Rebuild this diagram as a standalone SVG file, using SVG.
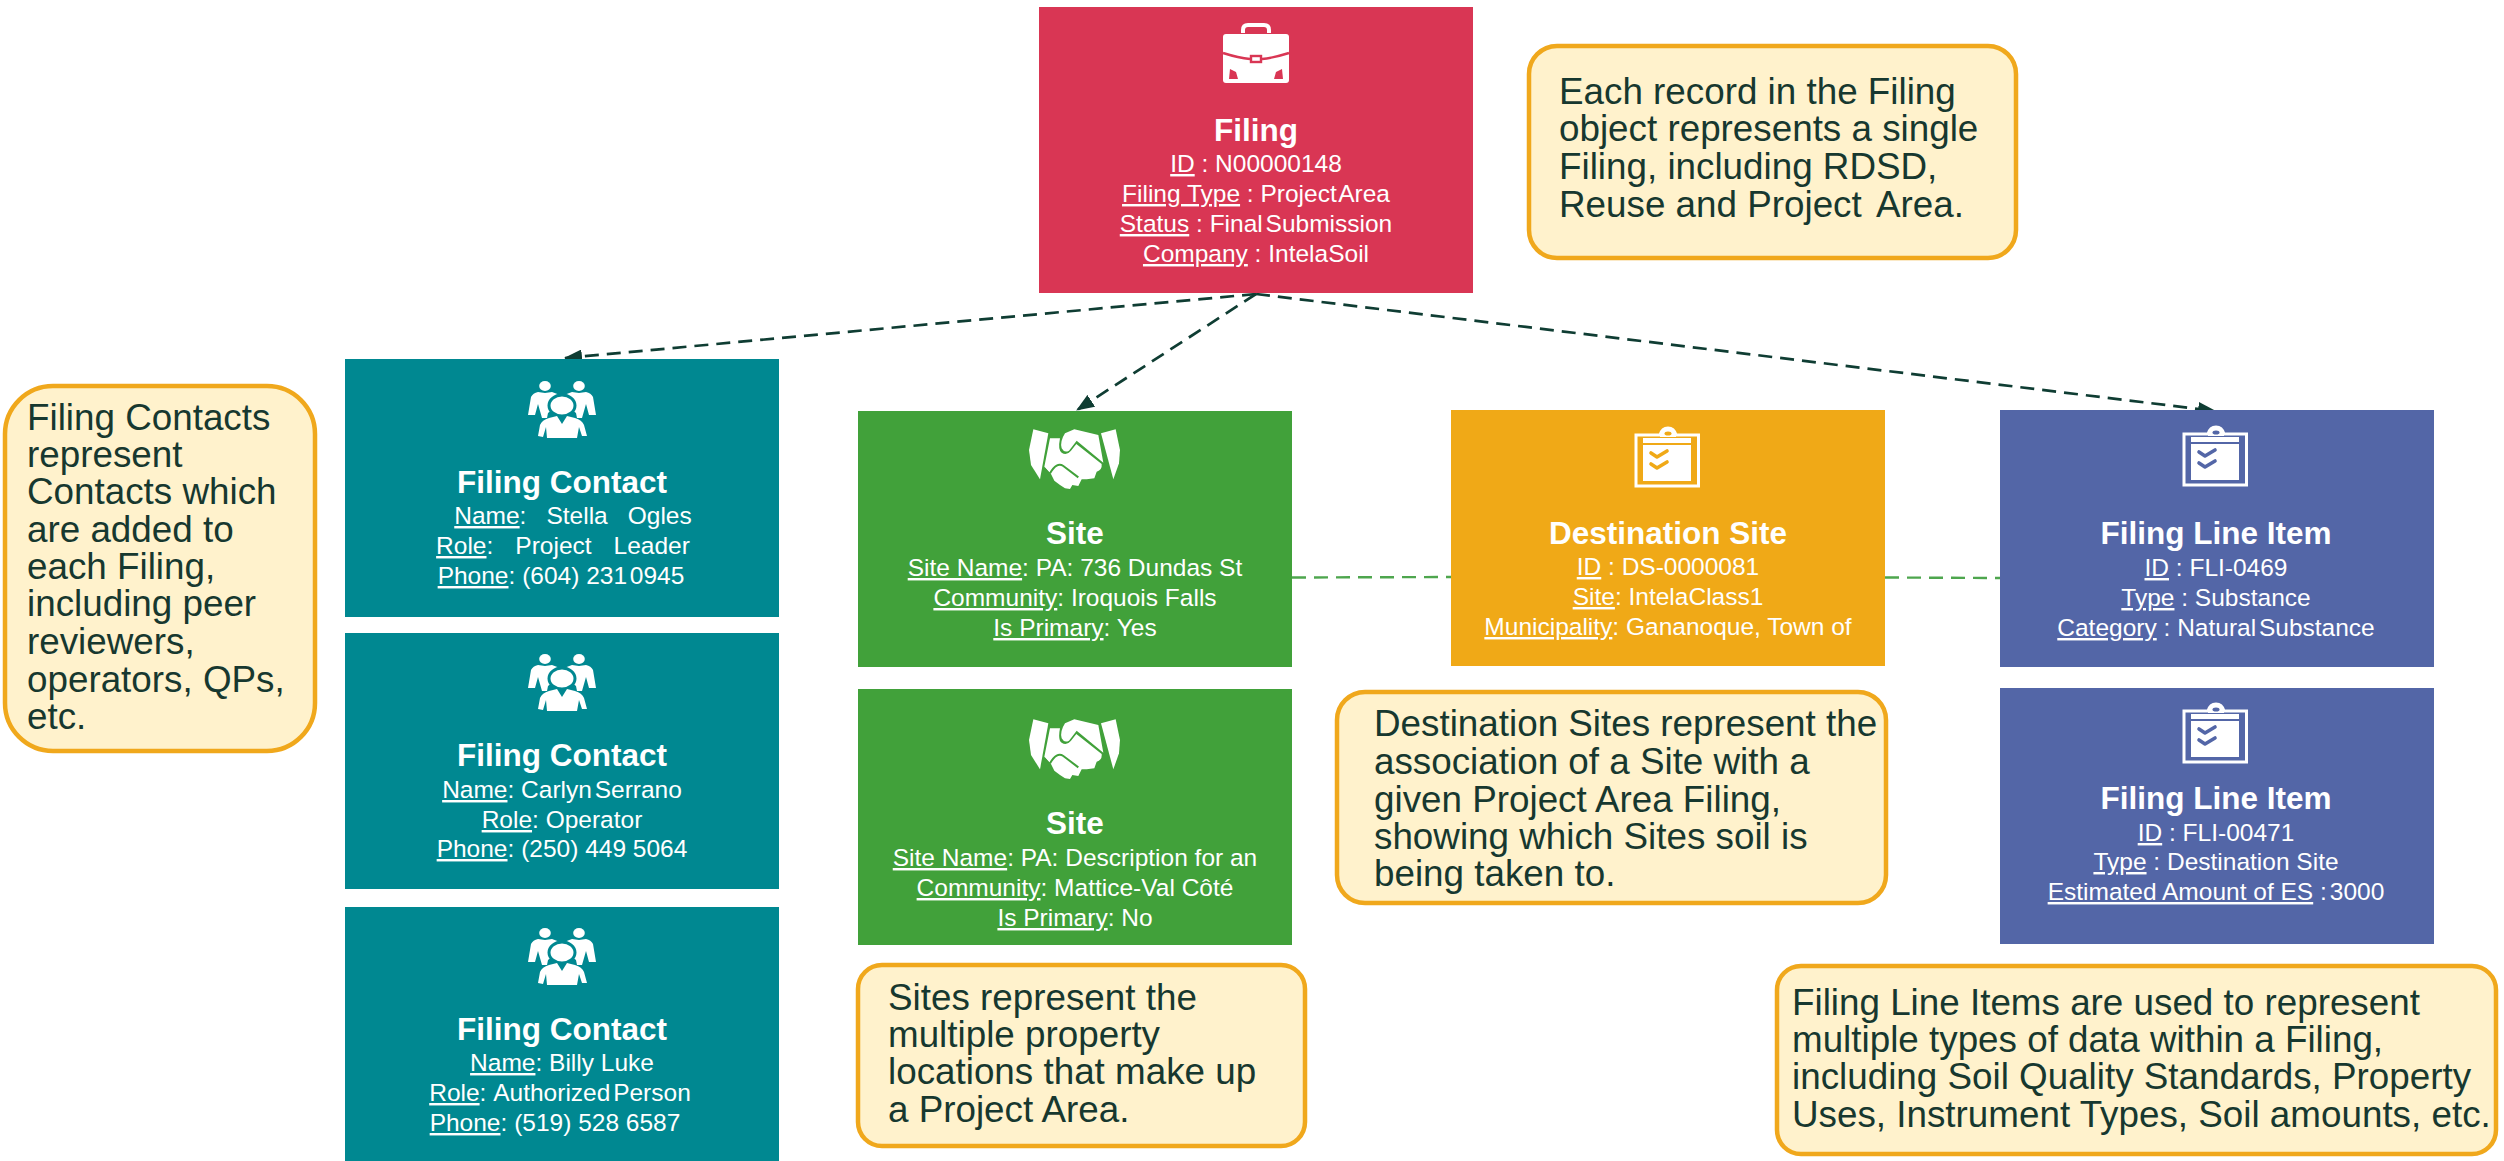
<svg xmlns="http://www.w3.org/2000/svg" width="2504" height="1161" viewBox="0 0 2504 1161">
<style>
text{font-family:"Liberation Sans",Arial,sans-serif}
.bg{fill:#fff}
.box{stroke:none}
.red{fill:#D93654;color:#D93654}
.teal{fill:#008891;color:#008891}
.green{fill:#41A13A;color:#41A13A}
.orange{fill:#F0A917;color:#F0A917}
.blue{fill:#5366A7;color:#5366A7}
.t{font-size:31.5px;font-weight:700;fill:#fff;text-anchor:middle}
.b{font-size:24.5px;fill:#fff;text-anchor:middle}
.u{text-decoration:underline}
.n{word-spacing:-4px}
.note{fill:#FFF2CC;stroke:#F0A81C;stroke-width:4.5}
.nt{font-size:36.8px;fill:#17382F}
.c{fill:none;stroke:#0F3D33;stroke-width:2.7;stroke-dasharray:14 8}
.g{fill:none;stroke:#4EA64E;stroke-width:2.4;stroke-dasharray:14 8}
</style>
<defs>
<marker id="ah" markerUnits="userSpaceOnUse" markerWidth="18" markerHeight="14" refX="17" refY="7" orient="auto"><path d="M0,0L18,7L0,14Z" fill="#0F3D33"/></marker>
<g id="brief">
<path d="M-15,-24V-27Q-15,-34 -8,-34H8Q15,-34 15,-27V-24H11V-27Q11,-30 8,-30H-8Q-11,-30 -11,-27V-24Z" fill="#fff"/>
<rect x="-33" y="-23" width="66" height="49" rx="3" fill="#fff"/>
<path d="M-33,-4Q-17,1 -6,2M6,2Q17,1 33,-4" fill="none" stroke="currentColor" stroke-width="2.4"/>
<rect x="-5" y="-1" width="10" height="6" fill="#fff" stroke="currentColor" stroke-width="2.4"/>
<path d="M-26,12L-20,15L-18,22H-27Z" fill="currentColor"/><path d="M26,12L20,15L18,22H27Z" fill="currentColor"/>
</g>
<g id="people">
<ellipse cx="-17" cy="-21" rx="5.800" ry="5" fill="#fff"/><ellipse cx="17" cy="-21" rx="5.800" ry="5" fill="#fff"/>
<path d="M-34,8L-31,-10Q-29,-14 -24,-15L-17,-14L-10,-15L-2,-12L-4,-2L-14,6L-15,11H-20L-24,-3L-27,8Z" fill="#fff"/>
<path d="M34,8L31,-10Q29,-14 24,-15L17,-14L10,-15L2,-12L4,-2L14,6L15,11H20L24,-3L27,8Z" fill="#fff"/>
<ellipse cx="0" cy="-1.500" rx="13" ry="10.500" fill="#fff" stroke="currentColor" stroke-width="3"/>
<path d="M-24,29L-22,18Q-20,13 -13,11L-5,9L0,17L5,9L13,11Q20,13 22,18L25,29L20,29L17,20L15,31H-15L-16,20L-19,30Z" fill="#fff"/>
</g>
<g id="shake" transform="scale(0.3333) translate(-180,-114)">
<path d="M55,28L100,40L75,178L48,135L42,90Z" fill="#fff"/>
<path d="M258,40L302,28L315,90L312,130L295,178Z" fill="#fff"/>
<path d="M150,40L178,28L250,45L265,128L185,62L162,92Q148,100 140,85Q134,65 150,40Z" fill="#fff"/>
<path d="M105,55L135,55Q128,90 140,98Q155,108 168,92L184,72L260,132Q262,150 245,155L238,175L215,178L200,178L190,198L172,195L165,207L150,205L135,195L118,182L108,162L88,140Z" fill="#fff"/>
<path d="M88,145L105,165M105,160Q125,125 145,138L190,172" fill="none" stroke="currentColor" stroke-width="6"/>
</g>
<g id="clip">
<path d="M-24,-24H-8Q-6,-31 0,-31Q6,-31 8,-24H30.500V27H-32V-24Z" fill="none" stroke="#fff" stroke-width="3"/>
<path d="M-8,-24Q-6,-32 0,-32Q6,-32 8,-24V-22H-8Z" fill="#fff"/>
<ellipse cx="0" cy="-25.500" rx="3.500" ry="2" fill="currentColor"/>
<rect x="-25" y="-21" width="48" height="5" fill="#fff"/>
<rect x="-25" y="-14" width="48" height="36" fill="#fff"/>
<path d="M-17,-6L-11,-2L-1,-8M-17,5L-11,9L-1,3" fill="none" stroke="currentColor" stroke-width="3.600" stroke-linecap="round" stroke-linejoin="round"/>
</g>
</defs>
<rect class="bg" width="2504" height="1161"/>
<g id="connectors">
<path class="c" d="M1256,294L565,358" marker-end="url(#ah)"/>
<path class="c" d="M1256,294L1077,410" marker-end="url(#ah)"/>
<path class="c" d="M1256,294L2215,411" marker-end="url(#ah)"/>
<path class="g" d="M1292,577.500L1451,577"/>
<path class="g" d="M1885,577.500L2000,578"/>
</g>
<g id="filing">
<rect class="box red" x="1039" y="7" width="434" height="286"/>
<use href="#brief" x="1256" y="57" class="red"/>
<text class="t" x="1256" y="141">Filing</text>
<text class="b" x="1256" y="172"><tspan class="u">ID</tspan> : N00000148</text>
<text class="b" x="1256" y="202"><tspan class="u">Filing Type</tspan> : <tspan class="n">Project Area</tspan></text>
<text class="b" x="1256" y="232"><tspan class="u">Status</tspan> : <tspan class="n">Final Submission</tspan></text>
<text class="b" x="1256" y="262"><tspan class="u">Company</tspan> : IntelaSoil</text>
</g>
<g id="contact1">
<rect class="box teal" x="345" y="359" width="434" height="258"/>
<use href="#people" x="562" y="407" class="teal"/>
<text class="t" x="562" y="493">Filing Contact</text>
<text class="b" x="573" y="524"><tspan class="u">Name</tspan>:<tspan dx="20">Stella</tspan><tspan dx="20">Ogles</tspan></text>
<text class="b" x="563" y="554"><tspan class="u">Role</tspan>:<tspan dx="22">Project</tspan><tspan dx="22">Leader</tspan></text>
<text class="b" x="561" y="584"><tspan class="u">Phone</tspan>: (604) <tspan class="n">231 0945</tspan></text>
</g>
<g id="contact2">
<rect class="box teal" x="345" y="633" width="434" height="256"/>
<use href="#people" x="562" y="680" class="teal"/>
<text class="t" x="562" y="766">Filing Contact</text>
<text class="b" x="562" y="798"><tspan class="u">Name</tspan>: <tspan class="n">Carlyn Serrano</tspan></text>
<text class="b" x="562" y="828"><tspan class="u">Role</tspan>: Operator</text>
<text class="b" x="562" y="857"><tspan class="u">Phone</tspan>: (250) 449 5064</text>
</g>
<g id="contact3">
<rect class="box teal" x="345" y="907" width="434" height="254"/>
<use href="#people" x="562" y="954" class="teal"/>
<text class="t" x="562" y="1040">Filing Contact</text>
<text class="b" x="562" y="1071"><tspan class="u">Name</tspan>: Billy Luke</text>
<text class="b" x="560" y="1101"><tspan class="u">Role</tspan>: <tspan class="n">Authorized Person</tspan></text>
<text class="b" x="555" y="1131"><tspan class="u">Phone</tspan>: (519) 528 6587</text>
</g>
<g id="site1">
<rect class="box green" x="858" y="411" width="434" height="256"/>
<use href="#shake" x="1075" y="458" class="green"/>
<text class="t" x="1075" y="544">Site</text>
<text class="b" x="1075" y="576"><tspan class="u">Site Name</tspan>: PA: 736 Dundas St</text>
<text class="b" x="1075" y="606"><tspan class="u">Community</tspan>: Iroquois Falls</text>
<text class="b" x="1075" y="636"><tspan class="u">Is Primary</tspan>: Yes</text>
</g>
<g id="site2">
<rect class="box green" x="858" y="689" width="434" height="256"/>
<use href="#shake" x="1075" y="748" class="green"/>
<text class="t" x="1075" y="834">Site</text>
<text class="b" x="1075" y="866"><tspan class="u">Site Name</tspan>: PA: Description for an</text>
<text class="b" x="1075" y="896"><tspan class="u">Community</tspan>: Mattice-Val Côté</text>
<text class="b" x="1075" y="926"><tspan class="u">Is Primary</tspan>: No</text>
</g>
<g id="destination">
<rect class="box orange" x="1451" y="410" width="434" height="256"/>
<use href="#clip" x="1668" y="459" class="orange"/>
<text class="t" x="1668" y="544">Destination Site</text>
<text class="b" x="1668" y="575"><tspan class="u">ID</tspan> : DS-0000081</text>
<text class="b" x="1668" y="605"><tspan class="u">Site</tspan>: IntelaClass1</text>
<text class="b" x="1668" y="635"><tspan class="u">Municipality</tspan>: Gananoque, Town of</text>
</g>
<g id="lineitem1">
<rect class="box blue" x="2000" y="410" width="434" height="257"/>
<use href="#clip" x="2216" y="458" class="blue"/>
<text class="t" x="2216" y="544">Filing Line Item</text>
<text class="b" x="2216" y="576"><tspan class="u">ID</tspan> : FLI-0469</text>
<text class="b" x="2216" y="606"><tspan class="u">Type</tspan> : Substance</text>
<text class="b" x="2216" y="636"><tspan class="u">Category</tspan> : <tspan class="n">Natural Substance</tspan></text>
</g>
<g id="lineitem2">
<rect class="box blue" x="2000" y="688" width="434" height="256"/>
<use href="#clip" x="2216" y="735" class="blue"/>
<text class="t" x="2216" y="809">Filing Line Item</text>
<text class="b" x="2216" y="841"><tspan class="u">ID</tspan> : FLI-00471</text>
<text class="b" x="2216" y="870"><tspan class="u">Type</tspan> : Destination Site</text>
<text class="b" x="2216" y="900"><tspan class="u">Estimated Amount of ES</tspan> :<tspan dx="3">3000</tspan></text>
</g>
<g id="note-filing">
<rect class="note" x="1529" y="46" width="487" height="212" rx="28"/>
<text class="nt"><tspan x="1559" y="104">Each record in the Filing</tspan><tspan x="1559" y="141">object represents a single</tspan><tspan x="1559" y="179">Filing, including RDSD,</tspan><tspan x="1559" y="217">Reuse and Project <tspan dx="6">Area.</tspan></tspan></text>
</g>
<g id="note-contact">
<rect class="note" x="5" y="386" width="310" height="365" rx="48"/>
<text class="nt"><tspan x="27" y="430">Filing Contacts</tspan><tspan x="27" y="467">represent</tspan><tspan x="27" y="504">Contacts which</tspan><tspan x="27" y="542">are added to</tspan><tspan x="27" y="579">each Filing,</tspan><tspan x="27" y="616">including peer</tspan><tspan x="27" y="654">reviewers,</tspan><tspan x="27" y="692">operators, QPs,</tspan><tspan x="27" y="729">etc.</tspan></text>
</g>
<g id="note-site">
<rect class="note" x="858" y="965" width="447" height="181" rx="24"/>
<text class="nt"><tspan x="888" y="1010">Sites represent the</tspan><tspan x="888" y="1047">multiple property</tspan><tspan x="888" y="1084">locations that make up</tspan><tspan x="888" y="1122">a Project Area.</tspan></text>
</g>
<g id="note-destination">
<rect class="note" x="1337" y="692" width="549" height="211" rx="28"/>
<text class="nt"><tspan x="1374" y="736">Destination Sites represent the</tspan><tspan x="1374" y="774">association of a Site with a</tspan><tspan x="1374" y="812">given Project Area Filing,</tspan><tspan x="1374" y="849">showing which Sites soil is</tspan><tspan x="1374" y="886">being taken to.</tspan></text>
</g>
<g id="note-lineitem">
<rect class="note" x="1777" y="966" width="719" height="188" rx="24"/>
<text class="nt"><tspan x="1792" y="1015">Filing Line Items are used to represent</tspan><tspan x="1792" y="1052">multiple types of data within a Filing,</tspan><tspan x="1792" y="1089">including Soil Quality Standards, Property</tspan><tspan x="1792" y="1127">Uses, Instrument Types, Soil amounts, etc.</tspan></text>
</g>
</svg>
